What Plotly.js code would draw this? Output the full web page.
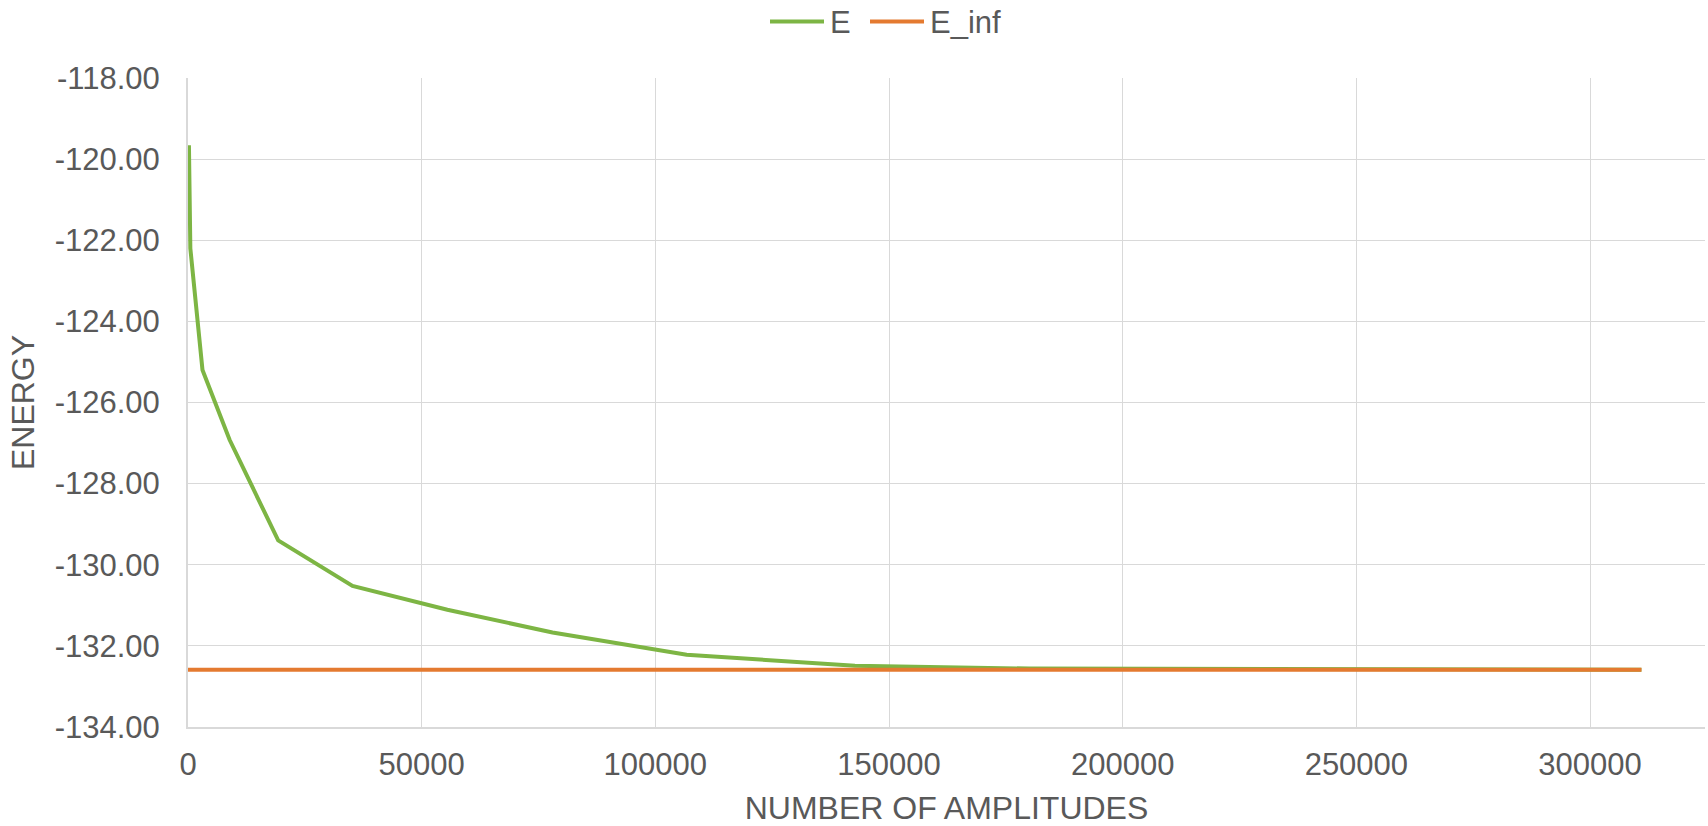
<!DOCTYPE html>
<html>
<head>
<meta charset="utf-8">
<script src="https://cdn.plot.ly/plotly-3.0.1.min.js"></script>
<style>
html,body{margin:0;padding:0;background:#fff;}
#chart{width:1708px;height:826px;}
</style>
</head>
<body>
<div id="chart"></div>
<script>
// Data
const amplitudes = [200, 500, 3100, 8900, 19300, 35200, 55500, 78000, 106700, 142700, 180000, 230000, 311000];
const energyE = [-119.66, -122.20, -125.20, -126.92, -129.40, -130.52, -131.11, -131.67, -132.22, -132.49, -132.56, -132.58, -132.59];
const infAmplitudes = [0, 311000];
const energyInf = [-132.59, -132.59];
const seriesNames = ['E', 'E_inf'];
const seriesColors = ['#7DB544', '#E47A30'];
const yTickVals = [-134, -132, -130, -128, -126, -124, -122, -120, -118];
const yTickText = ["-134.00", "-132.00", "-130.00", "-128.00", "-126.00", "-124.00", "-122.00", "-120.00", "-118.00"];
const xTickVals = [0, 50000, 100000, 150000, 200000, 250000, 300000];
const xTickText = ["0", "50000", "100000", "150000", "200000", "250000", "300000"];

const fontFamily = '"Liberation Sans", Arial, sans-serif';
const textColor = '#595959';
const fs = 31;
const titleFs = 32;

const traces = [
  {
    x: amplitudes, y: energyE, name: seriesNames[0], type: 'scatter', mode: 'lines',
    line: {color: seriesColors[0], width: 4}, showlegend: false
  },
  {
    x: infAmplitudes, y: energyInf, name: seriesNames[1], type: 'scatter', mode: 'lines',
    line: {color: seriesColors[1], width: 4}, showlegend: false
  }
];

// Custom legend (longer line keys like the reference)
const plotL = 188, plotW = 1517, plotT = 78, plotH = 649;
const px2x = X => (X - plotL) / plotW;
const px2y = Y => (plotT + plotH - Y) / plotH;
const legendY = 21.5;
const legendItems = [
  {x0: 770, x1: 824, tx: 828},
  {x0: 870, x1: 924, tx: 928}
];
const shapes = legendItems.map((it, i) => ({
  type: 'line', xref: 'paper', yref: 'paper',
  x0: px2x(it.x0), x1: px2x(it.x1), y0: px2y(legendY), y1: px2y(legendY),
  line: {color: seriesColors[i], width: 4}
}));
const annotations = legendItems.map((it, i) => ({
  xref: 'paper', yref: 'paper', x: px2x(it.tx), y: px2y(legendY + 1),
  xanchor: 'left', yanchor: 'middle', showarrow: false,
  text: seriesNames[i], font: {family: fontFamily, color: textColor, size: fs}
}));

const layout = {
  width: 1708, height: 826,
  margin: {l: plotL, r: 1708 - plotL - plotW, t: plotT, b: 826 - plotT - plotH, pad: 0},
  paper_bgcolor: '#ffffff', plot_bgcolor: '#ffffff',
  font: {family: fontFamily, color: textColor, size: fs},
  showlegend: false,
  shapes: shapes,
  annotations: annotations,
  xaxis: {
    range: [0, 324600],
    tickvals: xTickVals, ticktext: xTickText,
    showgrid: true, gridcolor: '#D9D9D9', gridwidth: 1.3,
    showline: true, linecolor: '#D9D9D9', linewidth: 2,
    zeroline: false, ticks: '', ticklabelstandoff: 9,
    tickfont: {family: fontFamily, color: textColor, size: fs},
    title: {text: 'NUMBER OF AMPLITUDES', font: {family: fontFamily, color: textColor, size: titleFs}, standoff: 15},
    automargin: false
  },
  yaxis: {
    range: [-134, -118],
    tickvals: yTickVals, ticktext: yTickText,
    showgrid: true, gridcolor: '#D9D9D9', gridwidth: 1.3,
    showline: true, linecolor: '#D9D9D9', linewidth: 2,
    zeroline: false, ticks: '', ticklabelstandoff: 20,
    tickfont: {family: fontFamily, color: textColor, size: fs},
    title: {text: 'ENERGY', font: {family: fontFamily, color: textColor, size: titleFs}, standoff: 10},
    automargin: false
  }
};

Plotly.newPlot('chart', traces, layout, {displayModeBar: false, responsive: false});
</script>
</body>
</html>
